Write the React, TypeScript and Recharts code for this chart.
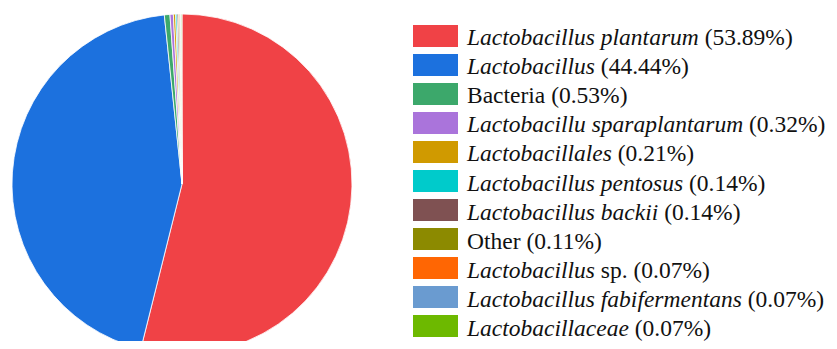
import React from "react";
import { PieChart, Pie, Cell, Legend } from "recharts";

// Taxon shares, in percent
const taxa = [
  "Lactobacillus plantarum",
  "Lactobacillus",
  "Bacteria",
  "Lactobacillu sparaplantarum",
  "Lactobacillales",
  "Lactobacillus pentosus",
  "Lactobacillus backii",
  "Other",
  "Lactobacillus sp.",
  "Lactobacillus fabifermentans",
  "Lactobacillaceae",
];
const shares = [53.89, 44.44, 0.53, 0.32, 0.21, 0.14, 0.14, 0.11, 0.07, 0.07, 0.07];
const colors = [
  "#F04246",
  "#1C71DE",
  "#3CA86B",
  "#AA74DB",
  "#D09A00",
  "#00CBCB",
  "#7F5152",
  "#8C8A00",
  "#FF6603",
  "#6A9BD0",
  "#6DB900",
];

const data = taxa.map((name, i) => ({ name, value: shares[i] }));

// names that are written in upright type, everything else is italic
const uprightNames = new Set(["Bacteria", "Other"]);

function LegendLabel({ name, value }: { name: string; value: number }) {
  const pct = ` (${value.toFixed(2)}%)`;
  if (uprightNames.has(name)) {
    return <span>{name + pct}</span>;
  }
  if (name.endsWith(" sp.")) {
    return (
      <span>
        <i>{name.slice(0, -4)}</i> sp.{pct}
      </span>
    );
  }
  return (
    <span>
      <i>{name}</i>
      {pct}
    </span>
  );
}

function TaxaLegend() {
  return (
    <div style={{ fontFamily: "'Liberation Serif', serif", fontSize: 23.5, color: "#111" }}>
      {data.map((d, i) => (
        <div key={d.name} style={{ display: "flex", alignItems: "center", height: 29.1 }}>
          <div style={{ width: 45, height: 22, background: colors[i], marginRight: 9, flexShrink: 0 }} />
          <div style={{ whiteSpace: "nowrap", lineHeight: "22px", position: "relative", top: 1.5 }}>
            <LegendLabel name={d.name} value={d.value} />
          </div>
        </div>
      ))}
    </div>
  );
}

export default function App() {
  return (
    <div style={{ margin: -8, width: 837, height: 349, background: "#fff", overflow: "hidden" }}>
      <PieChart width={837} height={349} margin={{ top: 0, right: 0, bottom: 0, left: 0 }}>
        <Pie
          data={data}
          dataKey="value"
          nameKey="name"
          cx={182}
          cy={184}
          outerRadius={170}
          startAngle={90}
          endAngle={-270}
          stroke="#fff"
          strokeWidth={0.8}
          isAnimationActive={false}
        >
          {data.map((d, i) => (
            <Cell key={d.name} fill={colors[i]} />
          ))}
        </Pie>
        <Legend
          content={<TaxaLegend />}
          wrapperStyle={{ position: "absolute", left: 413, top: 21, width: 424 }}
        />
      </PieChart>
    </div>
  );
}
